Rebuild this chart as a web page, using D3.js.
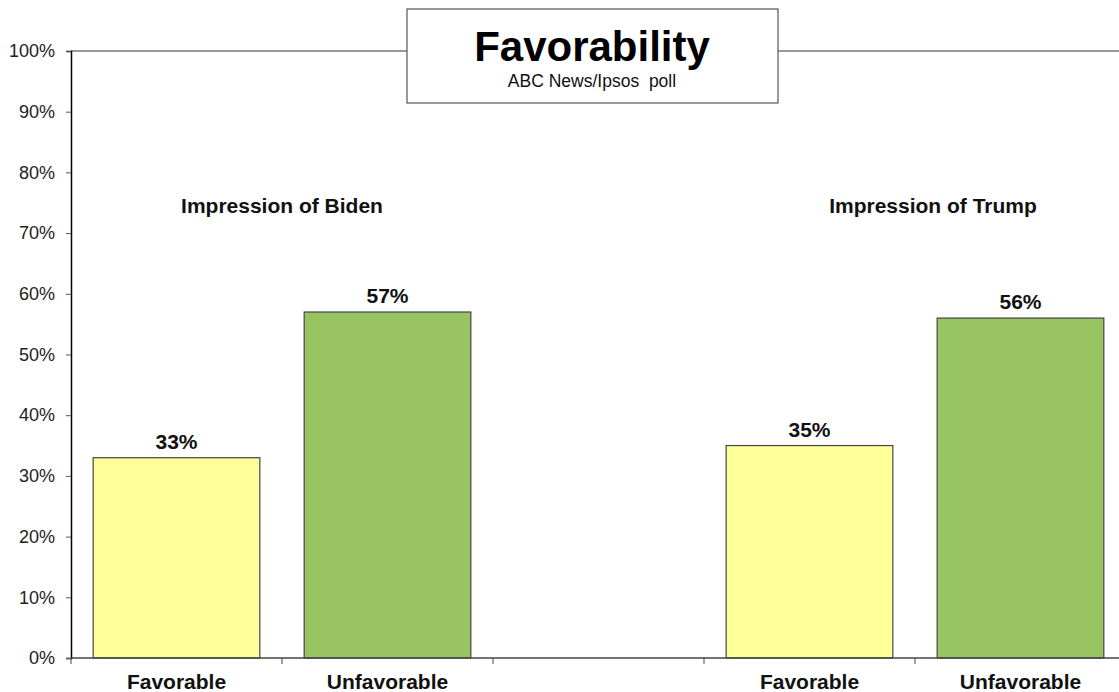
<!DOCTYPE html>
<html>
  <head>
    <meta charset="utf-8">
    <title>Favorability</title>
    <script type="text/javascript" src="https://d3js.org/d3.v7.min.js"></script>
    <style media="screen">
      body { margin: 0; background: #fff; }
      svg text { font-family: "Liberation Sans", Arial, sans-serif; }
    </style>
  </head>
  <body>
    <div class="vis"></div>
    <script type="text/javascript">
      // data
      var slots = ["bf", "bu", "gap", "tf", "tu"];
      var categories = ["Favorable", "Unfavorable", "", "Favorable", "Unfavorable"];
      var values = [33, 57, null, 35, 56];
      var groups = ["Impression of Biden", "Impression of Trump"];
      var yTicks = [0, 10, 20, 30, 40, 50, 60, 70, 80, 90, 100];

      var w = 1119;
      var h = 692;
      var padLeft = 71, padTop = 51, padBottom = 658;

      var colors = { "Favorable": "#ffff99", "Unfavorable": "#99c462" };

      var xscale = d3.scaleBand()
        .domain(slots)
        .range([padLeft, 1126])
        .paddingInner(0.21)
        .paddingOuter(0.105);

      var yscale = d3.scaleLinear()
        .domain([0, 100])
        .range([padBottom, padTop]);

      var svg = d3.select('.vis')
        .append('svg')
        .attr('width', w)
        .attr('height', h);

      // top border of plot area
      svg.append('line')
        .attr('x1', padLeft).attr('x2', w)
        .attr('y1', yscale(100)).attr('y2', yscale(100))
        .attr('stroke', '#777').attr('stroke-width', 1.5);

      // bars
      var rows = slots.map(function(s, i) {
        return { slot: s, cat: categories[i], value: values[i] };
      }).filter(function(d) { return d.value !== null; });

      svg.selectAll('rect.bar')
        .data(rows)
        .enter()
        .append('rect')
        .attr('class', 'bar')
        .attr('x', function(d) { return xscale(d.slot); })
        .attr('y', function(d) { return yscale(d.value); })
        .attr('width', xscale.bandwidth())
        .attr('height', function(d) { return yscale(0) - yscale(d.value); })
        .attr('fill', function(d) { return colors[d.cat]; })
        .attr('stroke', '#444')
        .attr('stroke-width', 1.2);

      svg.selectAll('text.val')
        .data(rows)
        .enter()
        .append('text')
        .attr('class', 'val')
        .attr('x', function(d) { return xscale(d.slot) + xscale.bandwidth() / 2; })
        .attr('y', function(d) { return yscale(d.value) - 9; })
        .attr('text-anchor', 'middle')
        .attr('font-size', 21)
        .attr('font-weight', 'bold')
        .attr('fill', '#111')
        .text(function(d) { return d.value + '%'; });

      // y axis
      var yAxis = d3.axisLeft(yscale)
        .tickValues(yTicks)
        .tickSize(5)
        .tickPadding(11)
        .tickFormat(function(d) { return d + '%'; });

      var gy = svg.append('g')
        .attr('transform', 'translate(' + padLeft + ',0)')
        .call(yAxis);
      gy.select('.domain').attr('stroke', '#000').attr('stroke-width', 1.5);
      gy.selectAll('.tick line').attr('stroke', '#555');
      gy.selectAll('.tick text')
        .attr('font-size', 18)
        .attr('font-family', '"Liberation Sans", Arial, sans-serif')
        .attr('fill', '#222');

      // x axis
      var step = xscale.step();
      var boundaries = d3.range(slots.length).map(function(i) { return padLeft + i * step; });

      svg.append('line')
        .attr('x1', padLeft).attr('x2', w)
        .attr('y1', padBottom).attr('y2', padBottom)
        .attr('stroke', '#444').attr('stroke-width', 1.5);

      svg.selectAll('line.xtick')
        .data(boundaries)
        .enter()
        .append('line')
        .attr('class', 'xtick')
        .attr('x1', function(d) { return d; })
        .attr('x2', function(d) { return d; })
        .attr('y1', padBottom)
        .attr('y2', padBottom + 6)
        .attr('stroke', '#444');

      svg.selectAll('text.cat')
        .data(slots)
        .enter()
        .append('text')
        .attr('class', 'cat')
        .attr('x', function(d) { return xscale(d) + xscale.bandwidth() / 2; })
        .attr('y', 689)
        .attr('text-anchor', 'middle')
        .attr('font-size', 21)
        .attr('font-weight', 'bold')
        .attr('fill', '#111')
        .text(function(d, i) { return categories[i]; });

      // group titles
      var groupX = [xscale("bu") - (step - xscale.bandwidth()) / 2, xscale("tu") - (step - xscale.bandwidth()) / 2 + 18];
      svg.selectAll('text.group')
        .data(groups)
        .enter()
        .append('text')
        .attr('class', 'group')
        .attr('x', function(d, i) { return groupX[i]; })
        .attr('y', 213)
        .attr('text-anchor', 'middle')
        .attr('font-size', 21)
        .attr('font-weight', 'bold')
        .attr('fill', '#111')
        .text(function(d) { return d; });

      // title box
      svg.append('rect')
        .attr('x', 407).attr('y', 9)
        .attr('width', 371).attr('height', 94)
        .attr('fill', '#fff')
        .attr('stroke', '#555')
        .attr('stroke-width', 1.2);

      svg.append('text')
        .attr('x', 592).attr('y', 61)
        .attr('text-anchor', 'middle')
        .attr('font-size', 42)
        .attr('font-weight', 'bold')
        .attr('fill', '#000')
        .text('Favorability');

      svg.append('text')
        .attr('x', 592).attr('y', 87)
        .attr('text-anchor', 'middle')
        .attr('font-size', 17.5)
        .attr('fill', '#111')
        .style('white-space', 'pre')
        .text('ABC News/Ipsos  poll');
    </script>
  </body>
</html>
